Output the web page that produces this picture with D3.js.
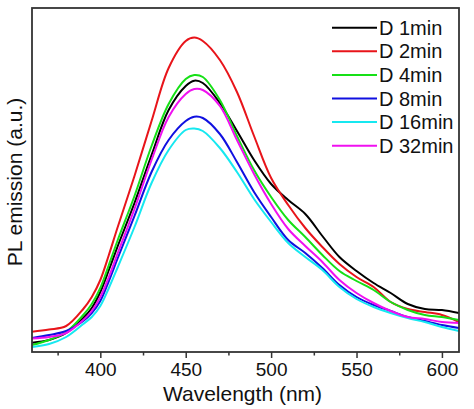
<!DOCTYPE html>
<html>
<head>
<meta charset="utf-8">
<script src="https://cdn.jsdelivr.net/npm/d3@7"></script>
<style>
  html, body { margin: 0; padding: 0; background: #fff; }
  svg { display: block; font-family: Arial, "Liberation Sans", sans-serif; }
</style>
</head>
<body>
<svg id="chart" width="474" height="409"></svg>
<script>
const wavelengths = [360,370,380,390,395,400,405,410,420,430,440,450,455,460,470,480,490,500,510,520,530,540,550,560,570,580,590,600,610];
const seriesNames = ["D 1min","D 2min","D 4min","D 8min","D 16min","D 32min"];
const seriesColors = ["#000000","#e8141a","#16e016","#1010e0","#16e8f0","#f010f0"];
const d1min  = [9.3,12,19,34,44,60,82,105,149,197,242,266,271.3,269,249,221,192,168,152,138,116,95,81,69,59,48,43,42,39];
const d2min  = [20.3,22.5,26,43,55,72,97,124,176,231,284,311,314.5,311,292,260,216,174,147,124,105,88,75,65,50,43,40,37,30];
const d4min  = [7,12,20,37,48,64,87,111,156,206,248,273,277,275,252,216,182,155,132,115,97,81,71,62,50,42,37,35,32];
const d8min  = [14,17,21,31,39,51,71,93,136,180,212,231,235.3,234,218,190,160,135,112,99,84,67,55,47,41,35,31,27,24];
const d16min = [5,8,15,28,35,46,64,84,125,169,202,222,223.5,221,204,180,153,130,109,95,82,65,53,45,39,34,30,25,21];
const d32min = [13.5,15,19,32,41,55,75,98,143,192,235,258,263,262,246,212,178,148,123,106,90,72,59,49,41,35,33,30,29];
const seriesValues = [d1min,d2min,d4min,d8min,d16min,d32min];
const xMajorTicks = [400,450,500,550,600];
const xMinorTicks = [375,425,475,525,575];
const xDomain = [360,610];
const yDomain = [0,344];

const svg = d3.select("#chart");
const margin = {left:32, right:15, top:8, bottom:57};
const W = 474, H = 409;
const iw = W - margin.left - margin.right, ih = H - margin.top - margin.bottom;
const x = d3.scaleLinear().domain(xDomain).range([margin.left, margin.left + iw]);
const y = d3.scaleLinear().domain(yDomain).range([margin.top + ih, margin.top]);

const g = svg.append("g");
svg.append("defs").append("clipPath").attr("id","plotclip")
  .append("rect").attr("x", margin.left).attr("y", margin.top).attr("width", iw).attr("height", ih);

const line = d3.line().x((d,i)=>x(wavelengths[i])).y(d=>y(d)).curve(d3.curveCatmullRom.alpha(0.5));
const plot = g.append("g").attr("clip-path","url(#plotclip)");
seriesValues.forEach((vals,k)=>{
  plot.append("path").datum(vals).attr("d", line)
    .attr("fill","none").attr("stroke", seriesColors[k]).attr("stroke-width",2)
    .attr("stroke-linejoin","round");
});

// axes
const axisColor = "#333";
const xAxis = d3.axisBottom(x).tickValues(xMajorTicks).tickSize(6).tickPadding(5).tickFormat(d3.format("d"));
const gx = g.append("g").attr("transform",`translate(0,${margin.top+ih})`).call(xAxis);
gx.select(".domain").remove();
gx.selectAll(".tick line").attr("stroke",axisColor).attr("stroke-width",1.5);
gx.selectAll(".tick text").attr("font-size",19).attr("fill","#111").attr("font-family","Arial, 'Liberation Sans', sans-serif");
const xMinor = d3.axisBottom(x).tickValues(xMinorTicks).tickSize(3.5).tickFormat("");
const gxm = g.append("g").attr("transform",`translate(0,${margin.top+ih})`).call(xMinor);
gxm.select(".domain").remove();
gxm.selectAll(".tick line").attr("stroke",axisColor).attr("stroke-width",1.5);

// frame
g.append("rect").attr("x",margin.left).attr("y",margin.top).attr("width",iw).attr("height",ih)
  .attr("fill","none").attr("stroke",axisColor).attr("stroke-width",1.8);

// axis titles
g.append("text").attr("x", margin.left + iw/2 - 3).attr("y", 401).attr("text-anchor","middle")
  .attr("font-size",21).attr("fill","#111").text("Wavelength (nm)");
g.append("text").attr("transform",`translate(22,${margin.top+ih/2+2}) rotate(-90)`).attr("text-anchor","middle")
  .attr("font-size",21).attr("fill","#111").text("PL emission (a.u.)");

// legend
const leg = g.append("g");
seriesNames.forEach((name,k)=>{
  const ly = 27.7 + k*23.6;
  leg.append("line").attr("x1",332).attr("x2",377).attr("y1",ly).attr("y2",ly)
    .attr("stroke",seriesColors[k]).attr("stroke-width",2);
  leg.append("text").attr("x",379).attr("y",ly+7).attr("font-size",20).attr("fill","#111").text(name);
});
</script>
</body>
</html>
